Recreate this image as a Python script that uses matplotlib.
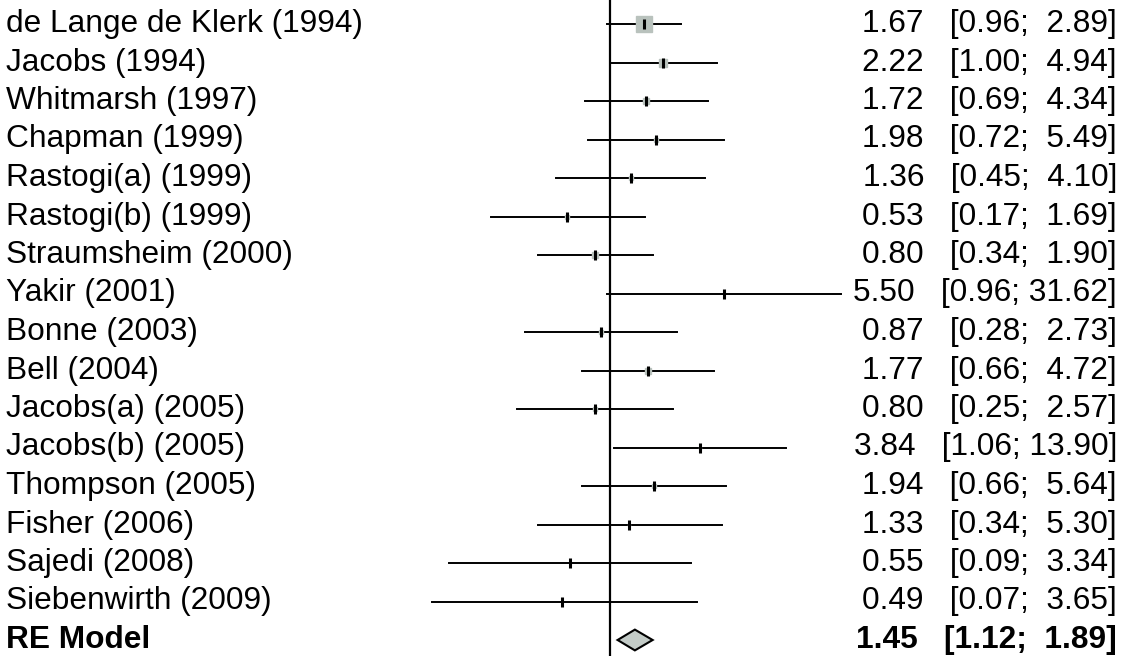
import numpy as np
import matplotlib.pyplot as plt
from matplotlib.patches import Polygon

studies = ["de Lange de Klerk (1994)", "Jacobs (1994)", "Whitmarsh (1997)", "Chapman (1999)",
           "Rastogi(a) (1999)", "Rastogi(b) (1999)", "Straumsheim (2000)", "Yakir (2001)",
           "Bonne (2003)", "Bell (2004)", "Jacobs(a) (2005)", "Jacobs(b) (2005)",
           "Thompson (2005)", "Fisher (2006)", "Sajedi (2008)", "Siebenwirth (2009)"]
est = [1.67, 2.22, 1.72, 1.98, 1.36, 0.53, 0.80, 5.50, 0.87, 1.77, 0.80, 3.84, 1.94, 1.33, 0.55, 0.49]
lower = [0.96, 1.00, 0.69, 0.72, 0.45, 0.17, 0.34, 0.96, 0.28, 0.66, 0.25, 1.06, 0.66, 0.34, 0.09, 0.07]
upper = [2.89, 4.94, 4.34, 5.49, 4.10, 1.69, 1.90, 31.62, 2.73, 4.72, 2.57, 13.90, 5.64, 5.30, 3.34, 3.65]
re_est, re_low, re_up = 1.45, 1.12, 1.89

W, H = 1124, 656
x0, ppu = 610, 67.0      # pixel of OR=1, pixels per ln unit
y0, dy = 24, 38.5        # first row pixel, row spacing

plt.rcParams["font.family"] = ["Liberation Sans", "DejaVu Sans"]
fs = 22.8

fig = plt.figure(figsize=(W / 100, H / 100), dpi=100)
ax = fig.add_axes([0, 0, 1, 1])
ax.set_xscale("log")
ax.set_xlim(np.exp(-x0 / ppu), np.exp((W - x0) / ppu))
ax.set_ylim((H - y0) / dy, -y0 / dy)
ax.axis("off")

ax.axvline(1, color="black", lw=1.6, zorder=1)

# inverse-variance weights from the CIs, for square size
se = (np.log(upper) - np.log(lower)) / 3.92
w = 1 / se ** 2
sq = 16 * w / w.max() * 0.72  # pixels -> points


def annot(e, lo, up):
    return f"{e:.2f}   [{lo:.2f}; {up:>5.2f}]"


tx = ax.get_yaxis_transform()
for i, name in enumerate(studies):
    ax.plot([lower[i], upper[i]], [i, i], color="black", lw=1.4, zorder=2)
    ax.plot(est[i], i, marker="s", ms=sq[i], color="#b9c2bd", mec="#b9c2bd", ls="none", zorder=3)
    ax.plot(est[i], i, marker="|", ms=7.5, mew=2.2, color="black", ls="none", zorder=4)
    ax.text(6 / W, i, name, transform=tx, ha="left", va="center", fontsize=fs)
    ax.text(1117 / W, i, annot(est[i], lower[i], upper[i]), transform=tx, ha="right",
            va="center", fontsize=fs)

r = len(studies)
dia = Polygon([[re_low, r], [re_est, r - 0.27], [re_up, r], [re_est, r + 0.27]],
              closed=True, facecolor="#c3cbc7", edgecolor="black", lw=1.5, zorder=3)
ax.add_patch(dia)
ax.text(6 / W, r, "RE Model", transform=tx, ha="left", va="center", fontsize=fs, fontweight="bold")
ax.text(1117 / W, r, annot(re_est, re_low, re_up), transform=tx, ha="right", va="center",
        fontsize=fs, fontweight="bold")

fig.savefig("out.png", dpi=100)
